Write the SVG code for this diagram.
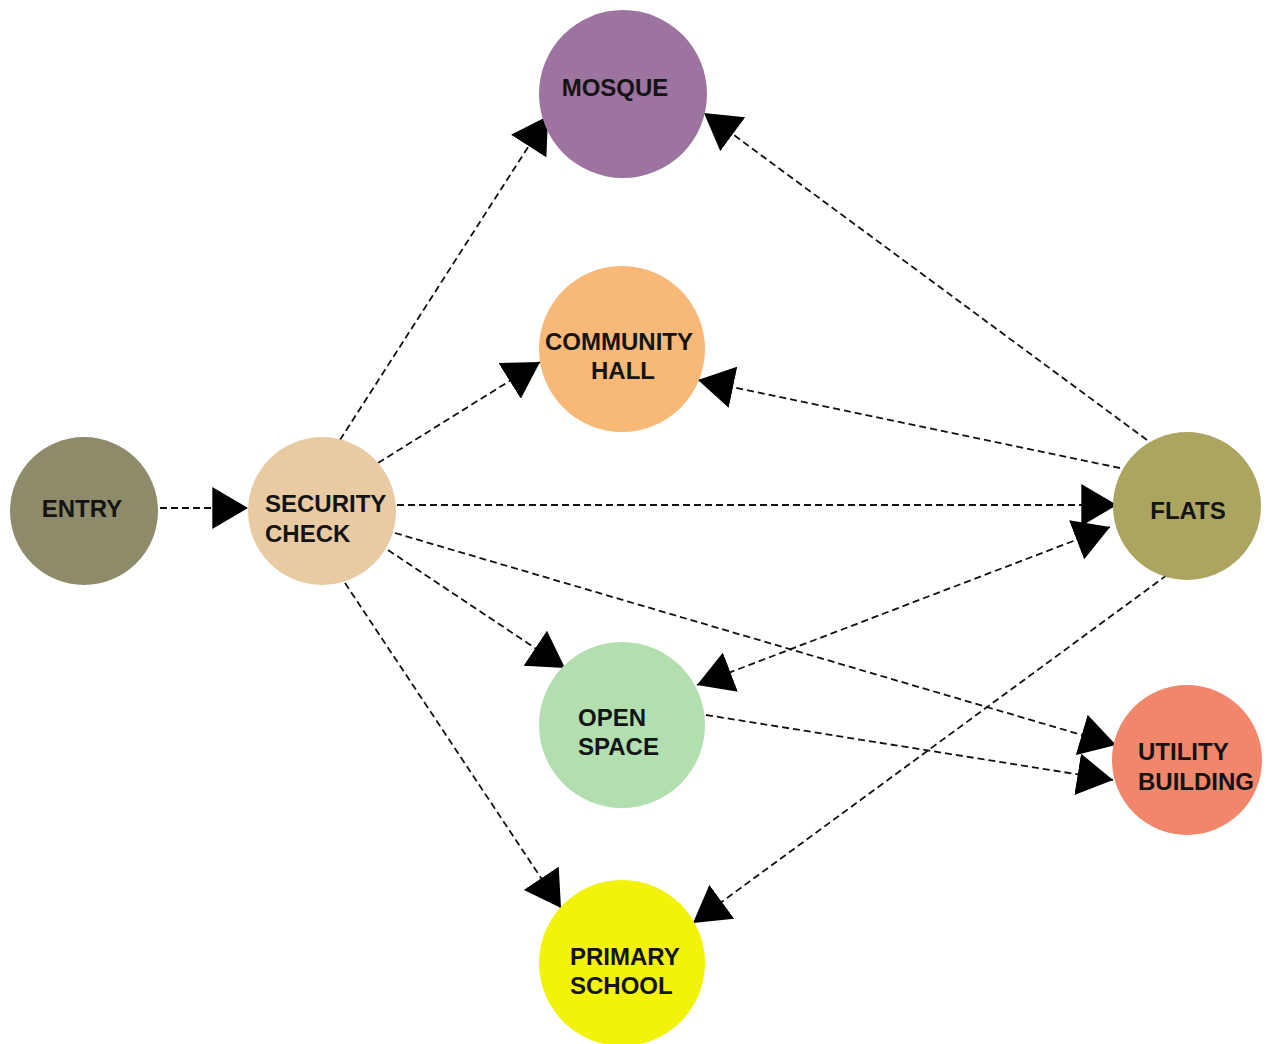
<svg xmlns="http://www.w3.org/2000/svg" width="1266" height="1044" viewBox="0 0 1266 1044">
<style>
.lbl{font-family:"Liberation Sans",Arial,sans-serif;font-weight:bold;font-size:24px;fill:#141414}
.mid{text-anchor:middle}
.edge{stroke:#111;stroke-width:1.8;stroke-dasharray:7 4;fill:none;marker-end:url(#ah)}
</style>
<defs>
<marker id="ah" markerUnits="userSpaceOnUse" markerWidth="36" markerHeight="42" viewBox="0 0 34 40" refX="34" refY="20" orient="auto-start-reverse">
<path d="M0,0 L34,20 L0,40 z" fill="#000"/>
</marker>
</defs>
<rect width="1266" height="1044" fill="#fff"/>
<g id="connectors">
<line class="edge" x1="160" y1="508" x2="248" y2="508"/>
<line class="edge" x1="340" y1="440" x2="548" y2="116"/>
<line class="edge" x1="378" y1="463" x2="540" y2="362"/>
<line class="edge" x1="397" y1="505" x2="1117" y2="505"/>
<line class="edge" x1="1147" y1="440" x2="704" y2="113"/>
<line class="edge" x1="1120" y1="468" x2="698" y2="380"/>
<line class="edge" x1="697" y1="685" x2="1110" y2="527" style="marker-start:url(#ah)"/>
<line class="edge" x1="388" y1="550" x2="565" y2="668"/>
<line class="edge" x1="395" y1="533" x2="1116" y2="745"/>
<line class="edge" x1="706" y1="715" x2="1113" y2="780"/>
<line class="edge" x1="345" y1="583" x2="561" y2="908"/>
<line class="edge" x1="1167" y1="575" x2="693" y2="923"/>
</g>
<g id="entry"><circle cx="84" cy="511" r="74" fill="#8e8b6a"/><text class="lbl mid" x="82" y="517">ENTRY</text></g>
<g id="security"><circle cx="322" cy="511" r="74" fill="#e8cba3"/><text class="lbl" x="265" y="512">SECURITY</text><text class="lbl" x="265" y="542">CHECK</text></g>
<g id="mosque"><circle cx="623" cy="94" r="84" fill="#9d73a0"/><text class="lbl mid" x="615" y="96">MOSQUE</text></g>
<g id="community"><circle cx="622" cy="349" r="83" fill="#f8b877"/><text class="lbl mid" x="619" y="350">COMMUNITY</text><text class="lbl mid" x="623" y="379">HALL</text></g>
<g id="flats"><circle cx="1187" cy="506" r="74" fill="#aba55f"/><text class="lbl mid" x="1188" y="519">FLATS</text></g>
<g id="open"><circle cx="622" cy="725" r="83" fill="#b3deb0"/><text class="lbl" x="578" y="726">OPEN</text><text class="lbl" x="578" y="755">SPACE</text></g>
<g id="utility"><circle cx="1187" cy="760" r="75" fill="#f2866b"/><text class="lbl" x="1138" y="760">UTILITY</text><text class="lbl" x="1138" y="790">BUILDING</text></g>
<g id="school"><circle cx="622" cy="963" r="83" fill="#f2f20a"/><text class="lbl" x="570" y="965">PRIMARY</text><text class="lbl" x="570" y="994">SCHOOL</text></g>
</svg>
